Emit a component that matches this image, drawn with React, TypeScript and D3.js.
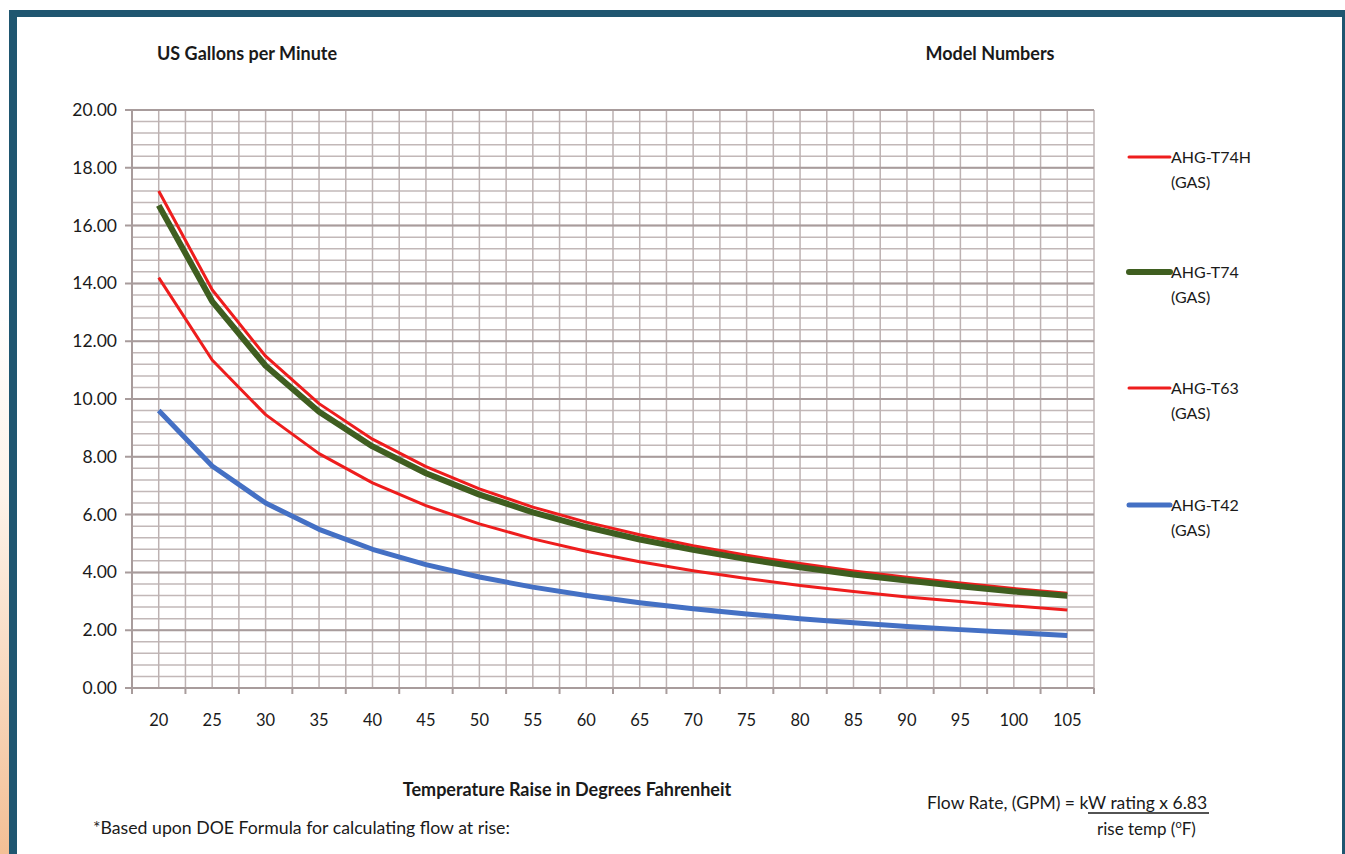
import { scaleBand, scaleLinear, line, range, curveLinear } from "d3";

const categories = ["20", "25", "30", "35", "40", "45", "50", "55", "60", "65", "70", "75", "80", "85", "90", "95", "100", "105"];

const t74h = [17.2, 13.78, 11.48, 9.84, 8.61, 7.66, 6.89, 6.26, 5.74, 5.3, 4.92, 4.59, 4.31, 4.05, 3.83, 3.63, 3.44, 3.28];
const t74 = [16.7, 13.38, 11.15, 9.56, 8.36, 7.43, 6.69, 6.08, 5.57, 5.14, 4.78, 4.46, 4.18, 3.93, 3.72, 3.52, 3.34, 3.19];
const t63 = [14.2, 11.35, 9.46, 8.11, 7.1, 6.31, 5.68, 5.16, 4.73, 4.37, 4.06, 3.79, 3.55, 3.34, 3.15, 2.99, 2.84, 2.7];
const t42 = [9.6, 7.68, 6.4, 5.49, 4.8, 4.27, 3.84, 3.49, 3.2, 2.95, 2.74, 2.56, 2.4, 2.26, 2.13, 2.02, 1.92, 1.82];

const yTicks = [0, 2, 4, 6, 8, 10, 12, 14, 16, 18, 20];

const series = [
  { name: "AHG-T74H", values: t74h, color: "#ee1d1d", width: 3 },
  { name: "AHG-T74", values: t74, color: "#3f5e20", width: 6 },
  { name: "AHG-T63", values: t63, color: "#ee1d1d", width: 3 },
  { name: "AHG-T42", values: t42, color: "#4470c4", width: 5 },
];

const FONT = "Lato, 'Open Sans', sans-serif";

const App = () => {
  const W = 1345;
  const H = 854;
  const margin = { left: 132, right: 1094, top: 110, bottom: 688 };

  const xScale = scaleBand<string>().domain(categories).range([margin.left, margin.right]).padding(0);
  const yScale = scaleLinear().domain([0, 20]).range([margin.bottom, margin.top]);
  const bw = xScale.bandwidth();
  const cx = (c: string) => (xScale(c) ?? 0) + bw / 2;

  // gridlines at every category edge and centre
  const vGrid: number[] = [];
  categories.forEach((c) => {
    vGrid.push(xScale(c) ?? 0);
    vGrid.push(cx(c));
  });
  vGrid.push(margin.right);

  const minorY = range(0, 20.001, 0.4);

  const lineGen = (vals: number[]) =>
    line<number>()
      .x((_, i) => cx(categories[i]))
      .y((d) => yScale(d))
      .curve(curveLinear)(vals) || "";

  const legendY = [157, 272, 388, 505];

  return (
    <svg width={W} height={H} style={{ position: "absolute", left: 0, top: 0, background: "#fff" }}>
      <defs>
        <linearGradient id="peach" x1="0" y1="0" x2="0" y2="1">
          <stop offset="0" stopColor="#ffffff" />
          <stop offset="0.35" stopColor="#fdf3ea" />
          <stop offset="1" stopColor="#f3bf95" />
        </linearGradient>
      </defs>
      <rect x={0} y={0} width={W} height={H} fill="#ffffff" />
      <rect x={0} y={300} width={9} height={H - 300} fill="url(#peach)" />
      {/* frame */}
      <rect x={9} y={10} width={W - 9} height={7} fill="#1f5670" />
      <rect x={9} y={10} width={8} height={H - 10} fill="#1f5670" />
      <rect x={1342} y={10} width={3} height={H - 10} fill="#1f5670" />

      {/* grid */}
      <g>
        {minorY.map((v, i) => (
          <line key={"m" + i} x1={margin.left} x2={margin.right} y1={yScale(v)} y2={yScale(v)} stroke="#c2b8b8" strokeWidth={1.5} />
        ))}
        {vGrid.map((x, i) => (
          <line key={"v" + i} x1={x} x2={x} y1={margin.top} y2={margin.bottom} stroke="#bdb2b2" strokeWidth={1.5} />
        ))}
        {yTicks.map((v) => (
          <line key={"M" + v} x1={margin.left - 7} x2={margin.right} y1={yScale(v)} y2={yScale(v)} stroke="#a89c9c" strokeWidth={2} />
        ))}
        <line x1={margin.left} x2={margin.left} y1={margin.top} y2={margin.bottom} stroke="#a89c9c" strokeWidth={2} />
        {categories.map((c) => (
          <line key={"t" + c} x1={xScale(c) ?? 0} x2={xScale(c) ?? 0} y1={margin.bottom} y2={margin.bottom + 6} stroke="#a89c9c" strokeWidth={2} />
        ))}
        <line x1={margin.right} x2={margin.right} y1={margin.bottom} y2={margin.bottom + 6} stroke="#a89c9c" strokeWidth={2} />
      </g>

      {/* axis labels */}
      <g fontFamily={FONT} fill="#1a1a1a">
        {yTicks.map((v) => (
          <text key={"yl" + v} x={117} y={yScale(v) + 6} textAnchor="end" fontSize={17.5}>
            {v.toFixed(2)}
          </text>
        ))}
        {categories.map((c) => (
          <text key={"xl" + c} x={cx(c)} y={726} textAnchor="middle" fontSize={16.5}>
            {c}
          </text>
        ))}
      </g>

      {/* series */}
      {series.map((s) => (
        <path key={s.name} d={lineGen(s.values)} fill="none" stroke={s.color} strokeWidth={s.width} strokeLinejoin="round" />
      ))}

      {/* legend */}
      <g fontFamily={FONT} fontSize={16} fill="#1a1a1a">
        {series.map((s, i) => (
          <g key={"lg" + s.name}>
            <line x1={1129} x2={1170} y1={legendY[i]} y2={legendY[i]} stroke={s.color} strokeWidth={s.width} strokeLinecap="round" />
            <text x={1171} y={legendY[i] + 6}>{s.name}</text>
            <text x={1171} y={legendY[i] + 31}>(GAS)</text>
          </g>
        ))}
      </g>

      {/* titles and notes */}
      <g fontFamily={FONT} fill="#1a1a1a">
        <text x={157} y={60} fontSize={18} fontWeight="bold">US Gallons per Minute</text>
        <text x={990} y={60} fontSize={18} fontWeight="bold" textAnchor="middle">Model Numbers</text>
        <text x={567} y={796} fontSize={18} fontWeight="bold" textAnchor="middle">Temperature Raise in Degrees Fahrenheit</text>
        <text x={93} y={834} fontSize={17.7}>*Based upon DOE Formula for calculating flow at rise:</text>
        <text x={927} y={809} fontSize={17.5}>Flow Rate, (GPM) = kW rating x 6.83</text>
        <line x1={1088} x2={1209} y1={813} y2={813} stroke="#1a1a1a" strokeWidth={1.3} />
        <text x={1097} y={835} fontSize={17}>
          rise temp (<tspan fontSize={11} dy={-7}>o</tspan><tspan dy={7}>F)</tspan>
        </text>
      </g>
    </svg>
  );
};

export default App;
